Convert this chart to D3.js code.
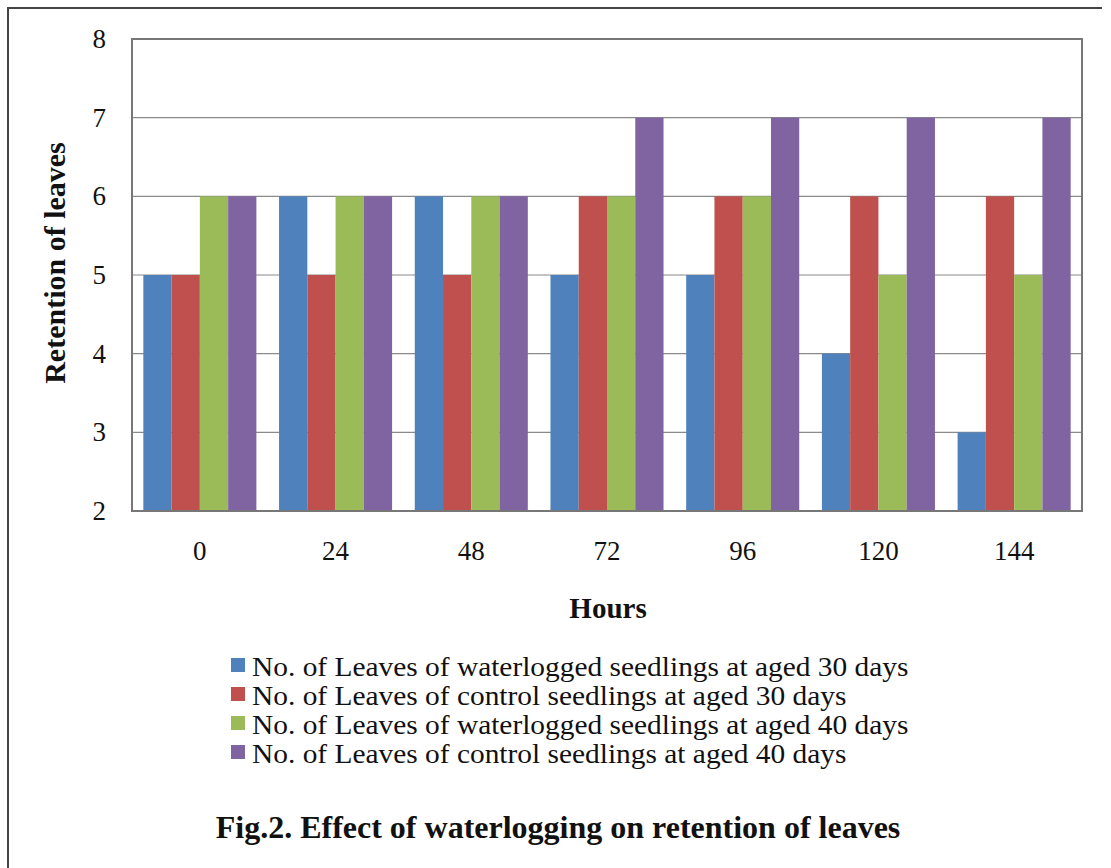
<!DOCTYPE html>
<html>
<head>
<meta charset="utf-8">
<script src="https://cdn.jsdelivr.net/npm/d3@7"></script>
<style>
  html, body { margin: 0; padding: 0; background: #fff; }
  svg { display: block; }
  text { font-family: "Liberation Serif", "Times New Roman", serif; fill: #111; }
</style>
</head>
<body>
<svg id="chart" width="1111" height="868"></svg>
<script>
// Hours after waterlogging
const hours = ["0", "24", "48", "72", "96", "120", "144"];

// Number of leaves retained for each treatment
const waterlogged30 = [5, 6, 6, 5, 5, 4, 3];
const control30     = [5, 5, 5, 6, 6, 6, 6];
const waterlogged40 = [6, 6, 6, 6, 6, 5, 5];
const control40     = [6, 6, 6, 7, 7, 7, 7];

const seriesNames = [
  "No. of Leaves of waterlogged seedlings at aged 30 days",
  "No. of Leaves of control seedlings at aged 30 days",
  "No. of Leaves of waterlogged seedlings at aged 40 days",
  "No. of Leaves of control seedlings at aged 40 days"
];
const seriesColors = ["#4F81BD", "#C0504D", "#9BBB59", "#8064A2"];
const yTicks = [2, 3, 4, 5, 6, 7, 8];

const series = [waterlogged30, control30, waterlogged40, control40].map((vals, i) => ({
  name: seriesNames[i], color: seriesColors[i], values: vals
}));

const svg = d3.select("#chart");

// outer frame (left and top edges visible)
svg.append("path")
  .attr("d", "M8,868 L8,8 L1102,8")
  .attr("fill", "none").attr("stroke", "#444").attr("stroke-width", 2);

const plot = { left: 132, right: 1082, top: 39, bottom: 511 };

const x0 = d3.scaleBand().domain(hours).range([plot.left, plot.right]).paddingInner(0.167).paddingOuter(0.0835);
const x1 = d3.scaleBand().domain(d3.range(series.length)).range([0, x0.bandwidth()]);
const y = d3.scaleLinear().domain([2, 8]).range([plot.bottom, plot.top]);

// gridlines
svg.append("g").selectAll("line").data(yTicks.slice(1, -1)).join("line")
  .attr("x1", plot.left).attr("x2", plot.right)
  .attr("y1", d => y(d)).attr("y2", d => y(d))
  .attr("stroke", "#8a8a8a").attr("stroke-width", 1.2);

// bars
const groups = svg.append("g").selectAll("g").data(hours).join("g")
  .attr("transform", d => `translate(${x0(d)},0)`);
groups.selectAll("rect")
  .data((h, hi) => series.map((s, si) => ({ si, v: s.values[hi], color: s.color })))
  .join("rect")
  .attr("x", d => x1(d.si))
  .attr("width", x1.bandwidth())
  .attr("y", d => y(d.v))
  .attr("height", d => y(2) - y(d.v))
  .attr("fill", d => d.color);

// plot frame
svg.append("rect")
  .attr("x", plot.left).attr("y", plot.top)
  .attr("width", plot.right - plot.left).attr("height", plot.bottom - plot.top)
  .attr("fill", "none").attr("stroke", "#777").attr("stroke-width", 2);

// y axis
const yAxis = d3.axisLeft(y).tickValues(yTicks).tickSize(0).tickPadding(26).tickFormat(d3.format("d"));
const yg = svg.append("g").attr("transform", `translate(${plot.left},0)`).call(yAxis);
yg.select(".domain").remove();
yg.selectAll("text").attr("font-size", 27).attr("font-family", "Liberation Serif").attr("fill", "#111");

// x axis
const xAxis = d3.axisBottom(x0).tickSize(0).tickPadding(30);
const xg = svg.append("g").attr("transform", `translate(0,${plot.bottom})`).call(xAxis);
xg.select(".domain").remove();
xg.selectAll("text").attr("font-size", 27).attr("font-family", "Liberation Serif").attr("fill", "#111");

// axis titles
svg.append("text")
  .attr("x", 608).attr("y", 618)
  .attr("text-anchor", "middle").attr("font-weight", "bold").attr("font-size", 29)
  .text("Hours");
svg.append("text")
  .attr("transform", "translate(65,263) rotate(-90)")
  .attr("text-anchor", "middle").attr("font-weight", "bold").attr("font-size", 30)
  .text("Retention of leaves");

// legend
const legend = svg.append("g").attr("transform", "translate(231,676)");
const rows = legend.selectAll("g").data(series).join("g")
  .attr("transform", (d, i) => `translate(0,${i * 29})`);
rows.append("rect").attr("x", 0).attr("y", -18).attr("width", 14).attr("height", 14).attr("fill", d => d.color);
rows.append("text").attr("x", 21).attr("y", 0).attr("font-size", 28)
  .text(d => d.name)
  .each(function () {
    // slightly widened lettering
    const w = this.getComputedTextLength();
    d3.select(this).attr("textLength", w * 1.05).attr("lengthAdjust", "spacingAndGlyphs");
  });

// caption
svg.append("text")
  .attr("x", 558).attr("y", 838)
  .attr("text-anchor", "middle").attr("font-weight", "bold").attr("font-size", 32)
  .text("Fig.2. Effect of waterlogging on retention of leaves");
</script>
</body>
</html>
